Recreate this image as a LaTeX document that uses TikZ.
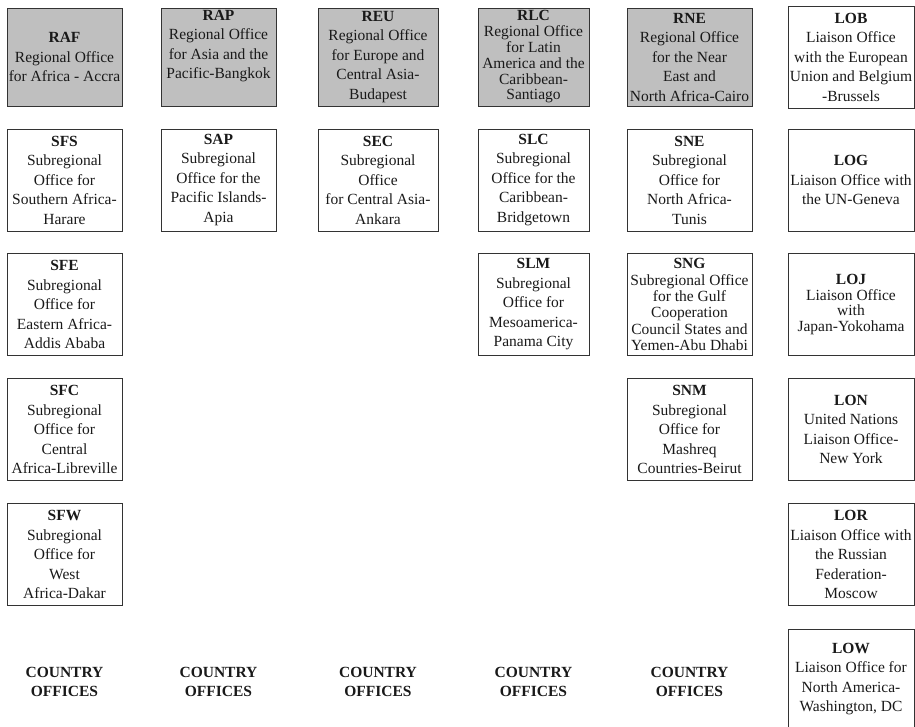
\documentclass[tikz,border=0pt]{standalone}
\usepackage{fontspec}
\setmainfont{Liberation Serif}

\begin{document}
\begin{tikzpicture}[
    x=1pt, y=-1pt,
    office/.style={draw=black!80, line width=0.8pt, align=center, inner sep=0pt, minimum height=102pt, text=black!90, font=\fontsize{15.5}{19.5}\selectfont},
    regional/.style={office, fill=black!25, minimum height=98pt},
    tight/.style={font=\fontsize{15.5}{15.8}\selectfont},
    cola/.style={minimum width=115pt},
    colb/.style={minimum width=115pt},
    colc/.style={minimum width=120pt},
    cold/.style={minimum width=111pt},
    cole/.style={minimum width=125pt},
    colf/.style={minimum width=126pt},
    country/.style={align=center, inner sep=0pt, text=black!90, font=\fontsize{15.5}{19.5}\selectfont\bfseries}
]
\useasboundingbox (0,0) rectangle (915,726);

% regional offices
\node[regional, cola] (raf) at (64.5,57) {\textbf{RAF}\\Regional Office\\for Africa - Accra};
\node[regional, colb] (rap) at (218.5,57) {\textbf{RAP}\\Regional Office\\for Asia and the\\Pacific-Bangkok\\\strut};
\node[regional, colc] (reu) at (378,57) {\textbf{REU}\\Regional Office\\for Europe and\\Central Asia-\\Budapest};
\node[regional, cold, tight] (rlc) at (533.5,57) {\textbf{RLC}\\Regional Office\\for Latin\\America and the\\Caribbean-\\Santiago};
\node[regional, cole] (rne) at (689.5,57) {\textbf{RNE}\\Regional Office\\for the Near\\East and\\North Africa-Cairo};

% subregional offices
\node[office, cola] (sfs) at (64.5,180) {\textbf{SFS}\\Subregional\\Office for\\Southern Africa-\\Harare};
\node[office, colb] (sap) at (218.5,180) {\textbf{SAP}\\Subregional\\Office for the\\Pacific Islands-\\Apia};
\node[office, colc] (sec) at (378,180) {\textbf{SEC}\\Subregional\\Office\\for Central Asia-\\Ankara};
\node[office, cold] (slc) at (533.5,180) {\textbf{SLC}\\Subregional\\Office for the\\Caribbean-\\Bridgetown};
\node[office, cole] (sne) at (689.5,180) {\textbf{SNE}\\Subregional\\Office for\\North Africa-\\Tunis};

\node[office, cola] (sfe) at (64.5,304.5) {\textbf{SFE}\\Subregional\\Office for\\Eastern Africa-\\Addis Ababa};
\node[office, cold] (slm) at (533.5,304.5) {\textbf{SLM}\\Subregional\\Office for\\Mesoamerica-\\Panama City};
\node[office, cole, font=\fontsize{15.5}{16.3}\selectfont] (sng) at (689.5,304.5) {\textbf{SNG}\\Subregional Office\\for the Gulf\\Cooperation\\Council States and\\Yemen-Abu Dhabi};

\node[office, cola] (sfc) at (64.5,429.5) {\textbf{SFC}\\Subregional\\Office for\\Central\\Africa-Libreville};
\node[office, cole] (snm) at (689.5,429.5) {\textbf{SNM}\\Subregional\\Office for\\Mashreq\\Countries-Beirut};

\node[office, cola] (sfw) at (64.5,554.5) {\textbf{SFW}\\Subregional\\Office for\\West\\Africa-Dakar};

% liaison offices
\node[office, colf] (lob) at (851,57) {\textbf{LOB}\\Liaison Office\\with the European\\Union and Belgium\\-Brussels};
\node[office, colf] (log) at (851,180) {\textbf{LOG}\\Liaison Office with\\the UN-Geneva};
\node[office, colf, tight] (loj) at (851,304.5) {\textbf{LOJ}\\Liaison Office\\with\\Japan-Yokohama};
\node[office, colf] (lon) at (851,429.5) {\textbf{LON}\\United Nations\\Liaison Office-\\New York};
\node[office, colf] (lor) at (851,554.5) {\textbf{LOR}\\Liaison Office with\\the Russian\\Federation-\\Moscow};
\node[office, colf, minimum height=100pt] (low) at (851,679) {\textbf{LOW}\\Liaison Office for\\North America-\\Washington, DC};

% country offices
\foreach \cx/\cname in {64.5/a, 218.5/b, 378/c, 533.5/d, 689.5/e}
    \node[country] (country\cname) at (\cx,682) {COUNTRY\\OFFICES};
\end{tikzpicture}
\end{document}
